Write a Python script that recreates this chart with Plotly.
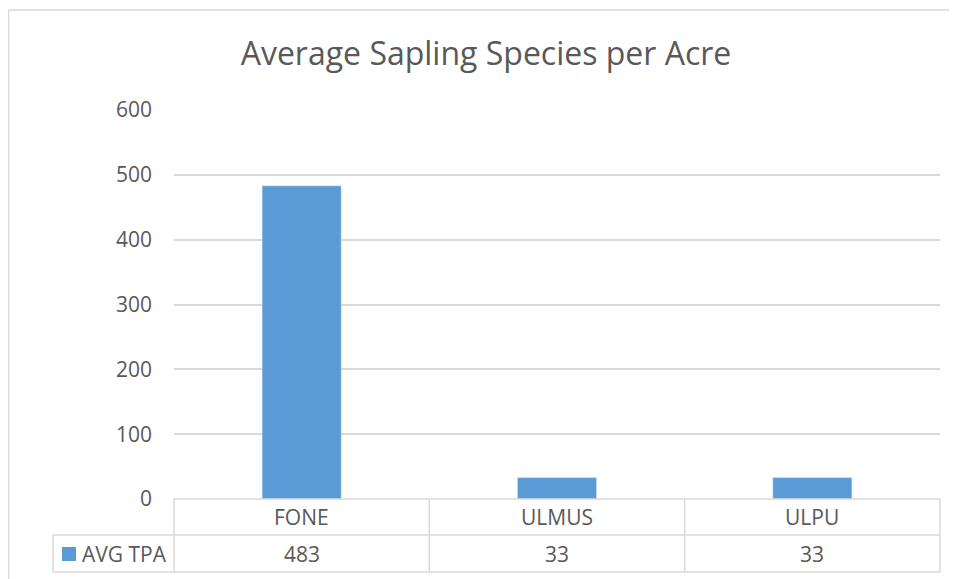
import plotly.graph_objects as go

categories = ["FONE", "ULMUS", "ULPU"]
avg_tpa = [483, 33, 33]
series_name = "AVG TPA"
title_text = "Average Sapling Species per Acre"
y_ticks = [0, 100, 200, 300, 400, 500, 600]

OFF = 8  # page body margin
W, H = 957 - OFF, 579 - OFF
FONT = "Open Sans"
TXT = "#595959"
GRID = "#D9D9D9"
BAR = "#5B9BD5"

def px(x):
    return (x - OFF) / W

def py(y):
    return 1 - (y - OFF) / H

x0, x1 = 174, 940
ytop, ybot = 110, 499
row1, row2 = 535, 572
leg_x = 53

fig = go.Figure()
fig.add_trace(go.Bar(x=categories, y=avg_tpa, marker_color=BAR, width=0.31,
                     name=series_name, showlegend=False))

shapes = []
def line(xa, ya, xb, yb, color=GRID, w=1.5):
    shapes.append(dict(type="line", xref="paper", yref="paper",
                       x0=px(xa), y0=py(ya), x1=px(xb), y1=py(yb),
                       line=dict(color=color, width=w)))

# outer chart border
line(8.5, 10, 957, 10, w=1.5)
line(8.5, 10, 8.5, 579, w=1.5)
# data table
line(x0, ybot, x1, ybot)
line(leg_x, row1, x1, row1)
line(leg_x, row2, x1, row2)
line(leg_x, row1, leg_x, row2)
n = len(categories)
for i in range(n + 1):
    xv = x0 + (x1 - x0) * i / n
    line(xv, ybot, xv, row2)
# legend key
shapes.append(dict(type="rect", xref="paper", yref="paper",
                   x0=px(62), x1=px(76), y0=py(561), y1=py(547),
                   fillcolor=BAR, line=dict(width=0)))

tfont = dict(family=FONT, size=21, color=TXT)
annotations = []
for c, v in zip(categories, avg_tpa):
    annotations.append(dict(x=c, xref="x", y=py((ybot + row1) / 2), yref="paper",
                            text=c, showarrow=False, font=tfont,
                            xanchor="center", yanchor="middle"))
    annotations.append(dict(x=c, xref="x", y=py((row1 + row2) / 2), yref="paper",
                            text=str(v), showarrow=False, font=tfont,
                            xanchor="center", yanchor="middle"))
annotations.append(dict(x=px(80), xref="paper", y=py((row1 + row2) / 2), yref="paper",
                        text=series_name, showarrow=False, font=tfont,
                        xanchor="left", yanchor="middle"))

fig.update_layout(
    width=W, height=H,
    margin=dict(l=0, r=0, t=0, b=0, pad=0, autoexpand=False),
    paper_bgcolor="white", plot_bgcolor="white",
    title=dict(text=title_text, x=px(486), xanchor="center", y=py(54), yanchor="middle",
               font=dict(family=FONT, size=32, color=TXT)),
    xaxis=dict(domain=[px(x0), px(x1)], showticklabels=False, showgrid=False,
               zeroline=False, showline=False, ticks="", fixedrange=True),
    yaxis=dict(domain=[py(ybot), py(ytop)], range=[0, 600], tickvals=y_ticks,
               showgrid=True, gridcolor=GRID, gridwidth=1.5, zeroline=False,
               tickfont=dict(family=FONT, size=21, color=TXT), ticklabelstandoff=21,
               fixedrange=True),
    shapes=shapes, annotations=annotations, bargap=0.69,
)
fig.write_html("out.html")
